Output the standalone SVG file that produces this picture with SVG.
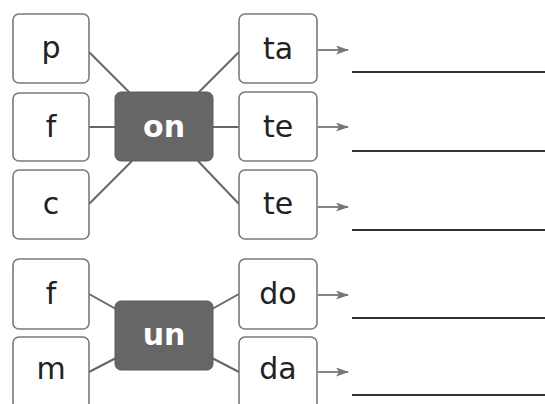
<svg xmlns="http://www.w3.org/2000/svg" width="545" height="404" viewBox="0 0 545 404">
<defs>
<style>
.box{fill:#fff;stroke:#7a7a7a;stroke-width:1.6}
.hub{fill:#666;stroke:#5a5a5a;stroke-width:1}
.t{font-family:"DejaVu Sans",sans-serif;font-size:30px;fill:#222;text-anchor:middle}
.h{font-family:"DejaVu Sans",sans-serif;font-weight:bold;font-size:30px;fill:#fff;text-anchor:middle}
.c{stroke:#666;stroke-width:2;fill:none}
.a{stroke:#777;stroke-width:1.8;fill:none}
.u{stroke:#333;stroke-width:2.2}
</style>
<marker id="ah" markerWidth="13" markerHeight="9" refX="12" refY="4.5" orient="auto" markerUnits="userSpaceOnUse">
<path d="M0,0 L13,4.5 L0,9 L3,4.5 Z" fill="#777"/>
</marker>
</defs>
<rect width="545" height="404" fill="#fff"/>
<g id="connectors">
<line class="c" x1="89" y1="52" x2="129" y2="92"/>
<line class="c" x1="89" y1="127" x2="115" y2="127"/>
<line class="c" x1="89" y1="204" x2="132" y2="161"/>
<line class="c" x1="199" y1="92" x2="239" y2="52"/>
<line class="c" x1="213" y1="127" x2="239" y2="127"/>
<line class="c" x1="198" y1="161" x2="239" y2="204"/>
<line class="c" x1="89" y1="294" x2="116" y2="309"/>
<line class="c" x1="89" y1="372" x2="116" y2="358"/>
<line class="c" x1="212" y1="309" x2="239" y2="294"/>
<line class="c" x1="212" y1="358" x2="239" y2="372"/>
<line class="a" x1="318" y1="50" x2="348" y2="50" marker-end="url(#ah)"/>
<line class="a" x1="318" y1="127" x2="348" y2="127" marker-end="url(#ah)"/>
<line class="a" x1="318" y1="207" x2="348" y2="207" marker-end="url(#ah)"/>
<line class="a" x1="318" y1="295" x2="348" y2="295" marker-end="url(#ah)"/>
<line class="a" x1="318" y1="372" x2="348" y2="372" marker-end="url(#ah)"/>
<line class="u" x1="352" y1="72" x2="545" y2="72"/>
<line class="u" x1="352" y1="151" x2="545" y2="151"/>
<line class="u" x1="352" y1="230" x2="545" y2="230"/>
<line class="u" x1="352" y1="318" x2="545" y2="318"/>
<line class="u" x1="352" y1="395" x2="545" y2="395"/>
</g>
<g id="n-p"><rect class="box" x="13" y="14" width="76" height="69" rx="6"/><text class="t" x="51" y="58">p</text></g>
<g id="n-f1"><rect class="box" x="13" y="93" width="76" height="68" rx="6"/><text class="t" x="51" y="137">f</text></g>
<g id="n-c"><rect class="box" x="13" y="170" width="76" height="69" rx="6"/><text class="t" x="51" y="214">c</text></g>
<g id="n-on"><rect class="hub" x="115" y="92" width="98" height="69" rx="6"/><text class="h" x="164" y="137">on</text></g>
<g id="n-ta"><rect class="box" x="239" y="14" width="78" height="69" rx="6"/><text class="t" x="278" y="59">ta</text></g>
<g id="n-te1"><rect class="box" x="239" y="92" width="78" height="69" rx="6"/><text class="t" x="278" y="137">te</text></g>
<g id="n-te2"><rect class="box" x="239" y="170" width="78" height="69" rx="6"/><text class="t" x="278" y="214">te</text></g>
<g id="n-f2"><rect class="box" x="13" y="259" width="76" height="70" rx="6"/><text class="t" x="51" y="304">f</text></g>
<g id="n-m"><rect class="box" x="13" y="337" width="76" height="72" rx="6"/><text class="t" x="51" y="379">m</text></g>
<g id="n-un"><rect class="hub" x="115" y="301" width="98" height="69" rx="6"/><text class="h" x="164" y="345">un</text></g>
<g id="n-do"><rect class="box" x="239" y="259" width="78" height="70" rx="6"/><text class="t" x="278" y="304">do</text></g>
<g id="n-da"><rect class="box" x="239" y="337" width="78" height="72" rx="6"/><text class="t" x="278" y="379">da</text></g>
</svg>
